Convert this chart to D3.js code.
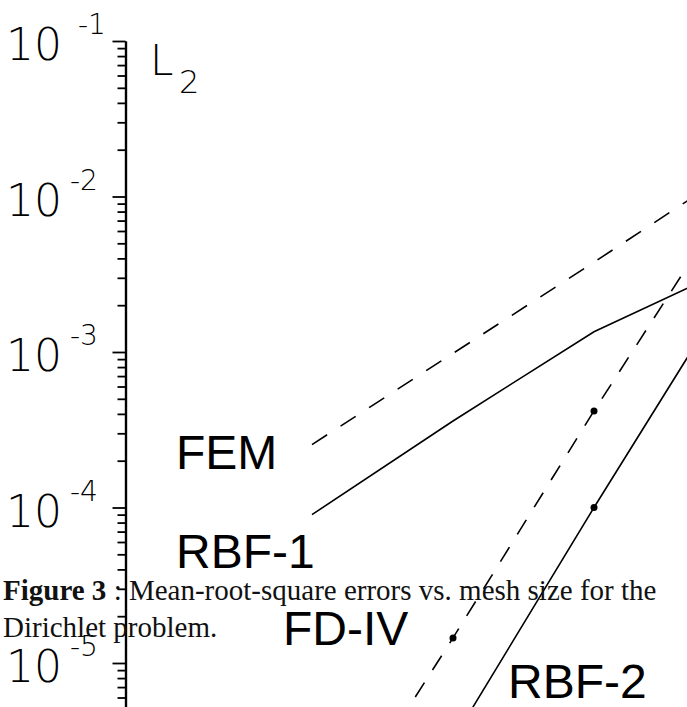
<!DOCTYPE html>
<html>
<head>
<meta charset="utf-8">
<script src="https://cdn.jsdelivr.net/npm/d3@7"></script>
<style>
  body { margin: 0; background: #fff; }
  svg { display: block; }
</style>
</head>
<body>
<svg id="chart"></svg>
<script>
// mesh size h (log x, no axis drawn) and L2 error (log y)
const meshSize = [1/40, 1/20, 1/10, 1/5];
const femErr   = [2.54e-4, 9.8e-4, 3.78e-3, 1.49e-2];
const rbf1Err  = [9.0e-5, 3.6e-4, 1.35e-3, 3.57e-3];
const fd4Err   = [5.5e-7, 1.45e-5, 4.18e-4, 1.06e-2];
const rbf2Err  = [1.0e-7, 3.2e-6, 1.0e-4, 2.86e-3];
const seriesNames = ["FEM", "RBF-1", "FD-IV", "RBF-2"];
const decadeExp = [-1, -2, -3, -4, -5];
const yLabel = ["L", "2"];
const caption = ["Figure 3", " : Mean-root-square errors vs. mesh size for the", "Dirichlet problem."];

class LogPlot {
    constructor(svg, width = 687, height = 707) {
        this.svg = svg;
        this.width = width;
        this.height = height;
    }

    initialize() {
        this.svg = d3.select(this.svg)
            .attr("width", this.width)
            .attr("height", this.height);

        this.xScale = d3.scaleLog().domain([meshSize[0], meshSize[3]]).range([312, 735]);
        // 155.5 px per decade, top of the axis at 10^-1
        this.yScale = d3.scaleLog().domain([1e-1, 4e-6]).range([41, 41 + 155.5 * Math.log10(0.1 / 4e-6)]);

        this.axis = this.svg.append("g").attr("transform", "translate(125.5, 0)");
        this.container = this.svg.append("g");
        this.labels = this.svg.append("g");
    }

    drawAxis() {
        let majors = decadeExp.map(e => Math.pow(10, e));
        let minors = [];
        for (let e = -2; e >= -6; e--)
            for (let m = 2; m <= 9; m++) {
                let v = m * Math.pow(10, e);
                if (v < 0.1 && v > 4e-6) minors.push(v);
            }

        this.axis.append("g")
            .call(d3.axisLeft(this.yScale).tickValues(minors).tickSize(8).tickSizeOuter(0).tickFormat(""));
        this.axis.append("g")
            .call(d3.axisLeft(this.yScale).tickValues(majors).tickSize(13).tickSizeOuter(0).tickFormat(""));
        this.axis.selectAll(".domain").attr("stroke-width", 2.2);
        this.axis.selectAll(".tick line").attr("stroke-width", 1.8);

        let lab = this.labels.selectAll("text.ylab")
            .data(decadeExp)
            .join("text")
            .attr("class", "ylab")
            .attr("x", 6)
            .attr("y", e => this.yScale(Math.pow(10, e)) + 19)
            .style("font-family", "'DejaVu Sans', sans-serif")
            .style("font-weight", 200)
            .attr("fill", "#000");
        lab.append("tspan").attr("font-size", 44).text("10");
        lab.append("tspan").attr("font-size", 28)
            .attr("x", e => e === -1 ? 78 : 70)
            .attr("dy", -26).text(e => String(e));

        let l2 = this.labels.append("text")
            .attr("x", 150).attr("y", 75)
            .style("font-family", "'DejaVu Sans', sans-serif")
            .style("font-weight", 200);
        l2.append("tspan").attr("font-size", 42).text(yLabel[0]);
        l2.append("tspan").attr("font-size", 32).attr("x", 179).attr("dy", 18).text(yLabel[1]);
    }

    update() {
        let series = [
            { name: seriesNames[0], values: femErr, dash: "18,16", dots: false, lx: 176, ly: 469 },
            { name: seriesNames[1], values: rbf1Err, dash: null, dots: false, lx: 176, ly: 568 },
            { name: seriesNames[2], values: fd4Err, dash: "17,15", dots: true, lx: 283, ly: 645 },
            { name: seriesNames[3], values: rbf2Err, dash: null, dots: true, lx: 508, ly: 698 }
        ];

        let line = d3.line()
            .x((d, i) => this.xScale(meshSize[i]))
            .y(d => this.yScale(d));

        this.container.selectAll("path.series")
            .data(series)
            .join("path")
            .attr("class", "series")
            .attr("d", s => line(s.values))
            .attr("fill", "none")
            .attr("stroke", "#000")
            .attr("stroke-width", 1.6)
            .attr("stroke-dasharray", s => s.dash);

        series.filter(s => s.dots).forEach(s => {
            this.container.append("g")
                .selectAll("circle")
                .data(s.values)
                .join("circle")
                .attr("cx", (d, i) => this.xScale(meshSize[i]))
                .attr("cy", d => this.yScale(d))
                .attr("r", 3.5)
                .attr("fill", "#000");
        });

        this.labels.selectAll("text.name")
            .data(series)
            .join("text")
            .attr("class", "name")
            .attr("x", s => s.lx)
            .attr("y", s => s.ly)
            .attr("font-size", 48)
            .style("font-family", "'Liberation Sans', Arial, sans-serif")
            .attr("fill", "#000")
            .text(s => s.name);

        // caption sits on top of the plot, as in the scanned figure
        let cap = this.labels.append("g")
            .style("font-family", "'Liberation Serif', 'Times New Roman', serif")
            .attr("font-size", 29)
            .attr("fill", "#111");
        let t1 = cap.append("text").attr("x", 3).attr("y", 600);
        t1.append("tspan").attr("font-weight", "bold").text(caption[0]);
        t1.append("tspan").text(caption[1]);
        cap.append("text").attr("x", 3).attr("y", 637).text(caption[2]);
    }
}

let plot = new LogPlot(document.getElementById("chart"));
plot.initialize();
plot.drawAxis();
plot.update();
</script>
</body>
</html>
